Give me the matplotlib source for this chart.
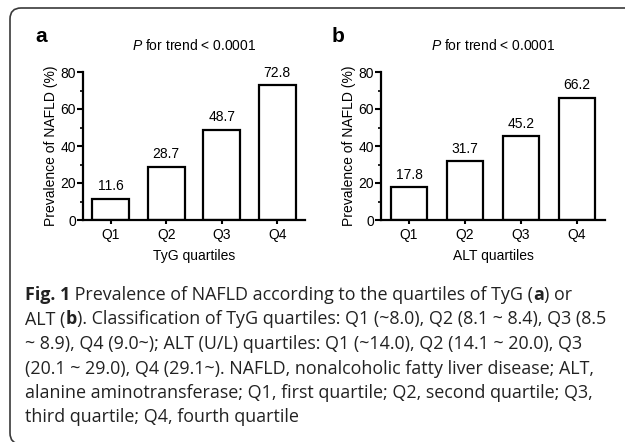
import matplotlib
matplotlib.use("Agg")
import matplotlib.pyplot as plt
from matplotlib.patches import FancyBboxPatch
from matplotlib.transforms import IdentityTransform
from matplotlib.ticker import MultipleLocator

plt.rcParams['font.family'] = 'Liberation Sans'
plt.rcParams['mathtext.fontset'] = 'custom'
plt.rcParams['mathtext.rm'] = 'Liberation Sans'
plt.rcParams['mathtext.it'] = 'Liberation Sans:italic'
plt.rcParams['mathtext.bf'] = 'Liberation Sans:bold'

quartiles = ['Q1', 'Q2', 'Q3', 'Q4']
tyg_prev = [11.6, 28.7, 48.7, 72.8]
alt_prev = [17.8, 31.7, 45.2, 66.2]
panel_letters = ['a', 'b']
xlabels = ['TyG quartiles', 'ALT quartiles']
trend_text = r'$P$ for trend < 0.0001'
ylabel = 'Prevalence of NAFLD (%)'

caption_lines = [
    [('Fig. 1', 'bold'), (' Prevalence of NAFLD according to the quartiles of TyG (', 'normal'),
     ('a', 'bold'), (') or', 'normal')],
    [('ALT (', 'normal'), ('b', 'bold'),
     ('). Classification of TyG quartiles: Q1 (~8.0), Q2 (8.1 ~ 8.4), Q3 (8.5', 'normal')],
    [('~ 8.9), Q4 (9.0~); ALT (U/L) quartiles: Q1 (~14.0), Q2 (14.1 ~ 20.0), Q3', 'normal')],
    [('(20.1 ~ 29.0), Q4 (29.1~). NAFLD, nonalcoholic fatty liver disease; ALT,', 'normal')],
    [('alanine aminotransferase; Q1, first quartile; Q2, second quartile; Q3,', 'normal')],
    [('third quartile; Q4, fourth quartile', 'normal')],
]

W, H = 625, 442
fig = plt.figure(figsize=(W / 100, H / 100), dpi=100)

# rounded frame around the figure + caption
frame = FancyBboxPatch((10, -2), 660, H - 8 + 2, boxstyle='round,pad=0,rounding_size=11',
                       transform=IdentityTransform(), fill=False, edgecolor='#3a3a3a', lw=1.2)
fig.patches.append(frame)


def px_axes(left, right, top, bottom):
    return fig.add_axes([left / W, 1 - bottom / H, (right - left) / W, (bottom - top) / H])


axes = [px_axes(83, 305, 72, 220), px_axes(381, 605, 72, 220)]
datasets = [tyg_prev, alt_prev]
letter_x = [35, 332]

for ax, vals, letter, xl, lx in zip(axes, datasets, panel_letters, xlabels, letter_x):
    x = range(len(quartiles))
    bars = ax.bar(x, vals, width=0.66, color='white', edgecolor='black', linewidth=1.6)
    for b, v in zip(bars, vals):
        ax.annotate(f'{v:.1f}', (b.get_x() + b.get_width() / 2, v), xytext=(0, 4),
                    textcoords='offset points', ha='center', va='bottom', fontsize=10)
    ax.set_xlim(-0.5, 3.5)
    ax.set_ylim(0, 80)
    ax.set_xticks(list(x))
    ax.set_xticklabels(quartiles, fontsize=10)
    ax.yaxis.set_major_locator(MultipleLocator(20))
    ax.yaxis.set_minor_locator(MultipleLocator(10))
    ax.tick_params(axis='y', labelsize=10, width=1.5, length=4, pad=1)
    ax.tick_params(axis='y', which='minor', width=1.2, length=2.5)
    ax.tick_params(axis='x', width=1.5, length=3, pad=3)
    for s in ['top', 'right']:
        ax.spines[s].set_visible(False)
    for s in ['left', 'bottom']:
        ax.spines[s].set_linewidth(1.6)
    ax.set_ylabel(ylabel, fontsize=10, labelpad=2)
    ax.set_xlabel(xl, fontsize=10, labelpad=5)
    ax.set_title(trend_text, fontsize=10, pad=16)
    fig.text(lx / W, 1 - 36 / H, letter, fontsize=15, fontweight='bold', va='center', ha='left')

# caption with mixed bold / regular runs
fig.canvas.draw()
renderer = fig.canvas.get_renderer()
cap_size = 12.9
y0, dy = 295, 24.5
for i, line in enumerate(caption_lines):
    xpos = 25
    ypix = H - (y0 + i * dy)
    for txt, wt in line:
        t = fig.text(xpos / W, ypix / H, txt, fontsize=cap_size, fontweight=wt,
                     family='Open Sans', va='center', ha='left', color='#222222')
        xpos += t.get_window_extent(renderer).width

fig.savefig('out.png', dpi=100)
